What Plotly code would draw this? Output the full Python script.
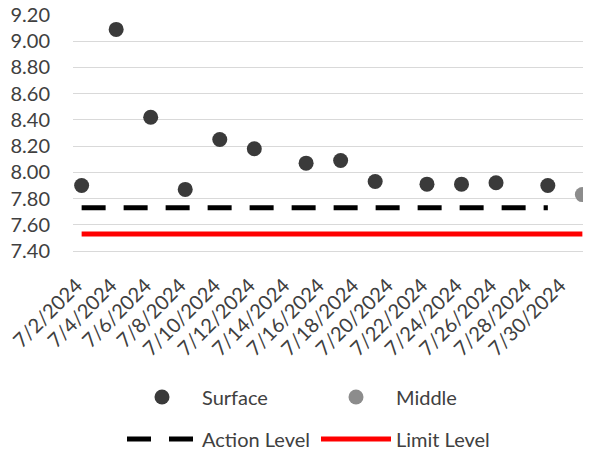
import plotly.graph_objects as go
import pandas as pd

surface_dates = ["2024-07-02", "2024-07-04", "2024-07-06", "2024-07-08", "2024-07-10",
                 "2024-07-12", "2024-07-15", "2024-07-17", "2024-07-19", "2024-07-22",
                 "2024-07-24", "2024-07-26", "2024-07-29"]
surface_values = [7.90, 9.09, 8.42, 7.87, 8.25, 8.18, 8.07, 8.09, 7.93, 7.91, 7.91, 7.92, 7.90]

middle_dates = ["2024-07-31"]
middle_values = [7.83]

action_dates = ["2024-07-02", "2024-07-29"]
action_values = [7.73, 7.73]

limit_dates = ["2024-07-02", "2024-07-31"]
limit_values = [7.53, 7.53]

tick_dates = ["2024-07-%02d" % d for d in range(2, 31, 2)]
tick_labels = ["7/%d/2024" % d for d in range(2, 31, 2)]

FONT = "Lato"
TXT = "#404040"

# page has an 8px body margin; size the figure so the plot sits where the reference's does
W, H = 583, 446
# small nudge so rotated label ends sit at the tick, as in the reference
label_pos = [(pd.Timestamp(d) - pd.Timedelta(hours=7)).strftime("%Y-%m-%d %H:%M") for d in tick_dates]

fig = go.Figure()
fig.add_trace(go.Scatter(x=surface_dates, y=surface_values, mode="markers", name="Surface",
                         marker=dict(size=15, color="#3a3a3a"), cliponaxis=False,
                         legend="legend"))
fig.add_trace(go.Scatter(x=middle_dates, y=middle_values, mode="markers", name="Middle",
                         marker=dict(size=15, color="#8c8c8c"), cliponaxis=False,
                         legend="legend"))
fig.add_trace(go.Scatter(x=action_dates, y=action_values, mode="lines", name="Action Level",
                         line=dict(color="#000000", width=5, dash="24px,18px"),
                         legend="legend2"))
fig.add_trace(go.Scatter(x=limit_dates, y=limit_values, mode="lines", name="Limit Level",
                         line=dict(color="#ff0000", width=5), legend="legend2"))

fig.update_layout(
    width=W, height=H,
    margin=dict(l=65, r=0, t=7, b=203, autoexpand=False),
    paper_bgcolor="white", plot_bgcolor="white",
    font=dict(family=FONT, size=20, color=TXT),
    xaxis=dict(
        type="date", automargin=False,
        range=["2024-07-01 12:00", "2024-07-31 12:00"],
        tickmode="array", tickvals=label_pos, ticktext=tick_labels,
        tickangle=-45, showgrid=False, zeroline=False,
        showline=True, linecolor="#d9d9d9", linewidth=1,
        ticks="", ticklabelstandoff=14, ticklabeloverflow="allow",
        tickfont=dict(family=FONT, size=20, color=TXT),
    ),
    yaxis=dict(
        automargin=False,
        range=[7.40, 9.20], dtick=0.2, tick0=7.4, tickformat=".2f",
        showgrid=True, gridcolor="#d9d9d9", gridwidth=1.3, zeroline=False,
        showline=False, ticks="", ticklabelstandoff=22, ticklabeloverflow="allow",
        tickfont=dict(family=FONT, size=20, color=TXT),
    ),
    showlegend=True,
    legend=dict(orientation="h", xref="container", yref="container",
                x=114 / W, y=1 - 389 / H, xanchor="left", yanchor="middle",
                entrywidth=109, entrywidthmode="pixels", itemwidth=70,
                font=dict(family=FONT, size=20, color=TXT), bgcolor="rgba(0,0,0,0)"),
    legend2=dict(orientation="h", xref="container", yref="container",
                 x=114 / W, y=1 - 431 / H, xanchor="left", yanchor="middle",
                 entrywidth=109, entrywidthmode="pixels", itemwidth=70,
                 font=dict(family=FONT, size=20, color=TXT), bgcolor="rgba(0,0,0,0)"),
)

fig.write_html("out.html")
